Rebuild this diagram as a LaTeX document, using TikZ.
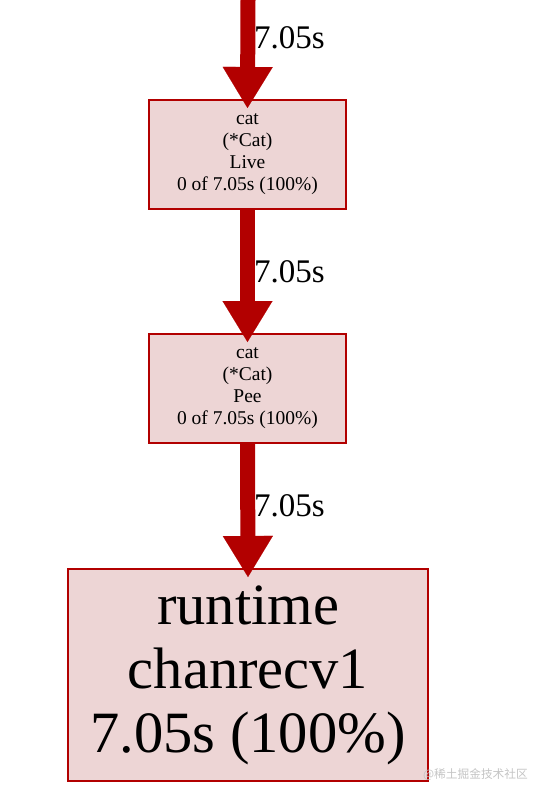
\documentclass[tikz,border=0pt]{standalone}
\usepackage{fontspec}
\setmainfont{Liberation Serif}
\newfontfamily\cjkfont{Noto Sans CJK SC}
\usetikzlibrary{arrows.meta}
\definecolor{pfill}{HTML}{EDD5D5}
\definecolor{pline}{HTML}{B20000}
\definecolor{wmark}{HTML}{C4C4C4}
\tikzset{
  fnbox/.style={draw=pline, fill=pfill, line width=2pt, inner sep=0pt, align=center, text=black},
  smallbox/.style={fnbox, minimum width=197pt, minimum height=109pt, font=\fontsize{19.5}{22}\selectfont},
  bigbox/.style={fnbox, minimum width=360pt, minimum height=212pt, font=\fontsize{58.5}{64}\selectfont},
  flow/.style={draw=pline, line width=15pt, -{Triangle[length=41pt,width=50pt,line width=0.1pt]}},
  elabel/.style={anchor=base west, inner sep=0pt, font=\fontsize{33}{36}\selectfont}
}
\begin{document}
\begin{tikzpicture}[x=1pt,y=-1pt]
\useasboundingbox (0,0) rectangle (544,801);
\node[smallbox] (live) at (247.5,154.5) {cat\\(*Cat)\\Live\\0 of 7.05s (100\%)};
\node[smallbox] (pee) at (247.5,388.5) {cat\\(*Cat)\\Pee\\0 of 7.05s (100\%)};
\node[bigbox] (recv) at (248,675) {runtime\\chanrecv1\\7.05s (100\%)};
\coordinate (top) at (248,0);
\draw[flow] (top) -- ([yshift=-9pt]live.north);
\draw[flow] (live.south) -- ([yshift=-9pt]pee.north);
\draw[flow] (pee.south) -- ([yshift=-9pt]recv.north);
\node[elabel] (l1) at (254,48) {7.05s};
\node[elabel] (l2) at (254,282) {7.05s};
\node[elabel] (l3) at (254,516) {7.05s};
\node[anchor=east, inner sep=0pt, text=wmark, font=\cjkfont\fontsize{11.7}{13}\selectfont] (wm) at (528,775) {@稀土掘金技术社区};
\end{tikzpicture}
\end{document}
